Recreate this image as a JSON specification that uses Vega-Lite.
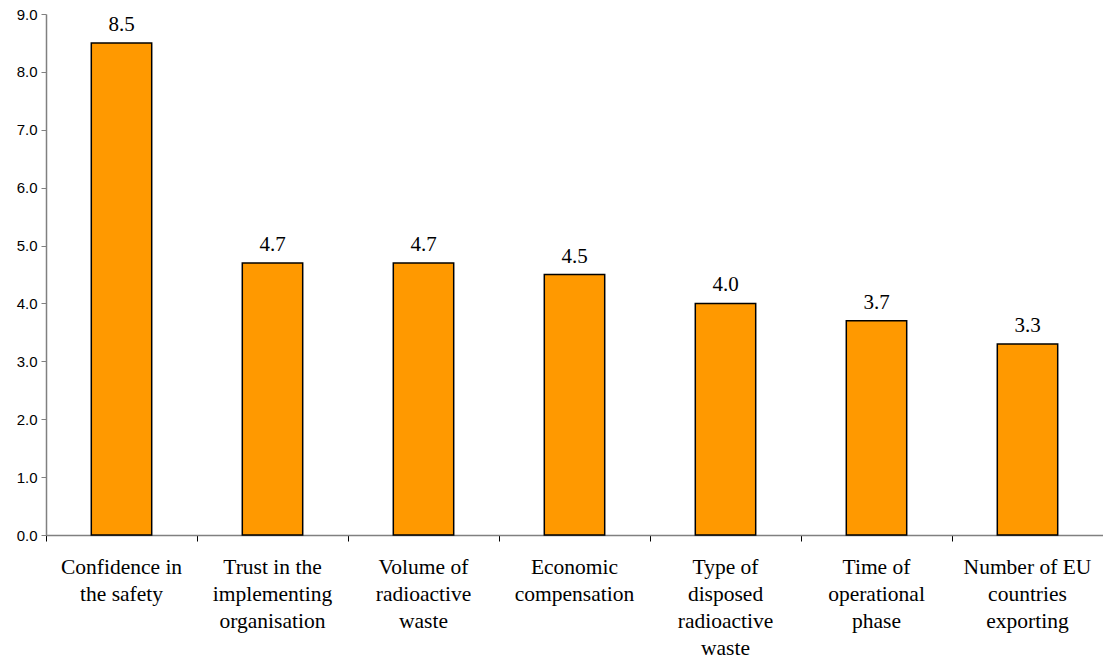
{
  "$schema": "https://vega.github.io/schema/vega-lite/v6.json",
  "autosize": "none",
  "padding": {"left": 46, "top": 14, "right": 0, "bottom": 123},
  "width": 1057,
  "height": 521,
  "background": "white",
  "config": {"view": {"stroke": null}},
  "data": {
    "values": [
      {"factor": "Confidence in|the safety", "score": 8.5},
      {"factor": "Trust in the|implementing|organisation", "score": 4.7},
      {"factor": "Volume of|radioactive|waste", "score": 4.7},
      {"factor": "Economic|compensation", "score": 4.5},
      {"factor": "Type of|disposed|radioactive|waste", "score": 4.0},
      {"factor": "Time of|operational|phase", "score": 3.7},
      {"factor": "Number of EU|countries|exporting", "score": 3.3}
    ]
  },
  "encoding": {
    "x": {
      "field": "factor",
      "type": "nominal",
      "sort": null,
      "scale": {"paddingInner": 0, "paddingOuter": 0},
      "axis": {
        "title": null,
        "labelAngle": 0,
        "labelExpr": "split(datum.label, '|')",
        "labelFont": "'Times New Roman', 'Liberation Serif', serif",
        "labelFontSize": 21.5,
        "labelColor": "#000000",
        "labelLineHeight": 27,
        "labelPadding": 15,
        "labelBaseline": "top",
        "bandPosition": 0,
        "domainColor": "#808080",
        "domainWidth": 1.5,
        "tickColor": "#000000",
        "tickSize": 6,
        "labelLimit": 0
      }
    },
    "y": {
      "field": "score",
      "type": "quantitative",
      "scale": {"domain": [0, 9], "nice": false},
      "axis": {
        "title": null,
        "values": [0, 1, 2, 3, 4, 5, 6, 7, 8, 9],
        "format": ".1f",
        "grid": false,
        "labelFont": "Arial, 'Liberation Sans', sans-serif",
        "labelFontSize": 15,
        "labelColor": "#000000",
        "labelPadding": 4,
        "domainColor": "#808080",
        "domainWidth": 1.5,
        "tickColor": "#808080",
        "tickSize": 5
      }
    }
  },
  "layer": [
    {
      "mark": {"type": "bar", "width": {"band": 0.4}, "color": "#FF9900", "stroke": "#000000", "strokeWidth": 1.5}
    },
    {
      "mark": {"type": "text", "baseline": "bottom", "dy": -8, "font": "'Times New Roman', 'Liberation Serif', serif", "fontSize": 21, "color": "#000000"},
      "encoding": {"text": {"field": "score", "type": "quantitative", "format": ".1f"}}
    }
  ]
}
